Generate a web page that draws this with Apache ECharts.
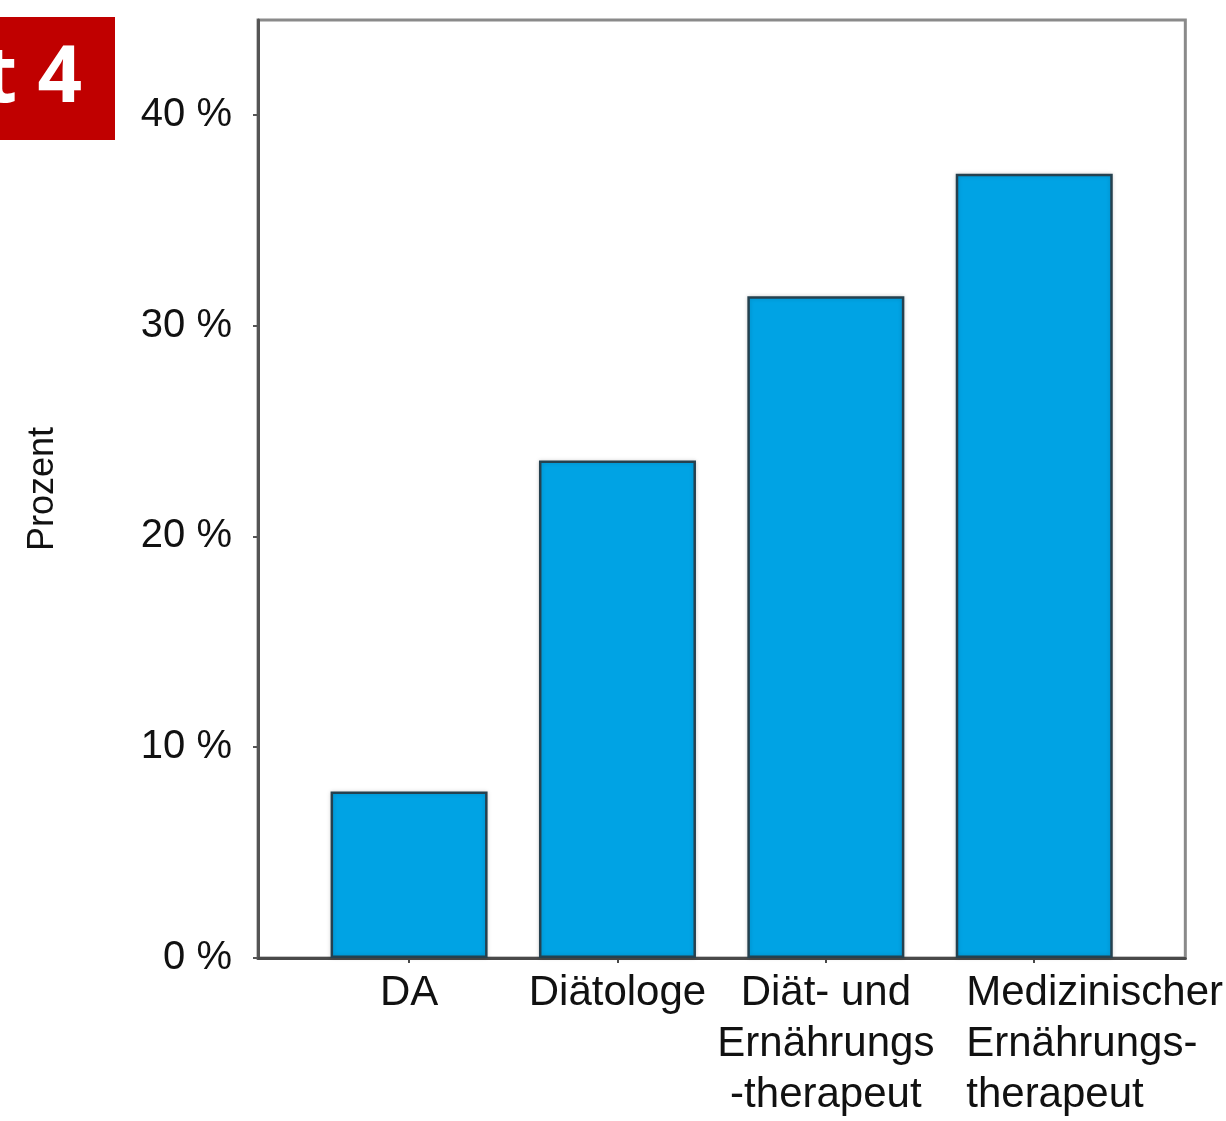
<!DOCTYPE html>
<html>
<head>
<meta charset="utf-8">
<script src="https://cdn.jsdelivr.net/npm/echarts@6/dist/echarts.min.js"></script>
<style>
  html, body { margin: 0; padding: 0; background: #fff; }
  #chart { width: 1226px; height: 1121px; }
</style>
</head>
<body>
<div id="chart"></div>
<script>
// Berufsbezeichnung -> Anteil in Prozent
const categories = ['DA', 'Diätologe', 'Diät- und\nErnährungs\n-therapeut', 'Medizinischer\nErnährungs-\ntherapeut']
const values = [7.9, 23.6, 31.4, 37.2]
const yTicks = [0, 10, 20, 30, 40]

const chart = echarts.init(document.getElementById('chart'), null, { renderer: 'canvas' })
const font = '"Liberation Sans", Arial, sans-serif'

const option = {
  backgroundColor: '#ffffff',
  animation: false,
  grid: {
    left: 258, right: 38, top: 20, bottom: 161,
    show: true, borderColor: '#8a8a8a', borderWidth: 3, backgroundColor: '#fff'
  },
  graphic: [
    { type: 'rect', left: 0, top: 17, shape: { width: 115, height: 123 }, style: { fill: '#c00000' } },
    {
      type: 'text', x: 82, y: 80,
      style: { text: 't 4', fill: '#fff', font: 'bold 78px "Open Sans", "Liberation Sans", sans-serif', textAlign: 'right', textVerticalAlign: 'middle' }
    }
  ],
  xAxis: {
    type: 'value',
    min: -0.725,
    max: 3.725,
    splitLine: { show: false },
    axisLine: { show: true, onZero: false, lineStyle: { color: '#4a4a4a', width: 3 } },
    axisTick: { show: true, customValues: [0, 1, 2, 3], length: 5, lineStyle: { color: '#4a4a4a', width: 2 } },
    axisLabel: {
      customValues: [0, 1, 2, 3],
      margin: 10,
      color: '#111',
      fontFamily: font,
      fontSize: 42,
      lineHeight: 51,
      formatter: (v) => {
        const i = Math.round(v)
        if (i === 3) return '{l|' + categories[i].split('\n').join('}\n{l|') + '}'
        return categories[i]
      },
      rich: {
        l: { width: 136, align: 'left', fontSize: 42, lineHeight: 51, fontFamily: font, color: '#111' }
      }
    }
  },
  yAxis: {
    type: 'value',
    min: 0,
    max: 44.5,
    interval: 10,
    name: 'Prozent',
    nameLocation: 'middle',
    nameGap: 197,
    nameRotate: 90,
    nameTextStyle: { fontFamily: font, fontSize: 36, color: '#111' },
    splitLine: { show: false },
    axisLine: { show: true, onZero: false, lineStyle: { color: '#555', width: 3 } },
    axisTick: { show: true, length: 5, lineStyle: { color: '#555', width: 2 } },
    axisLabel: {
      showMaxLabel: false,
      margin: 26,
      color: '#111',
      fontFamily: font,
      fontSize: 40,
      formatter: (v) => (yTicks.includes(v) ? v + ' %' : '')
    }
  },
  series: [
    {
      type: 'bar',
      data: values.map((v, i) => [i, v]),
      barWidth: 157,
      itemStyle: {
        color: '#00a3e4',
        borderColor: '#25414f',
        borderWidth: 2.5,
        shadowColor: 'rgba(0,0,0,0.15)',
        shadowBlur: 4
      }
    }
  ]
}

chart.setOption(option)
window.addEventListener('resize', () => chart.resize())
</script>
</body>
</html>
